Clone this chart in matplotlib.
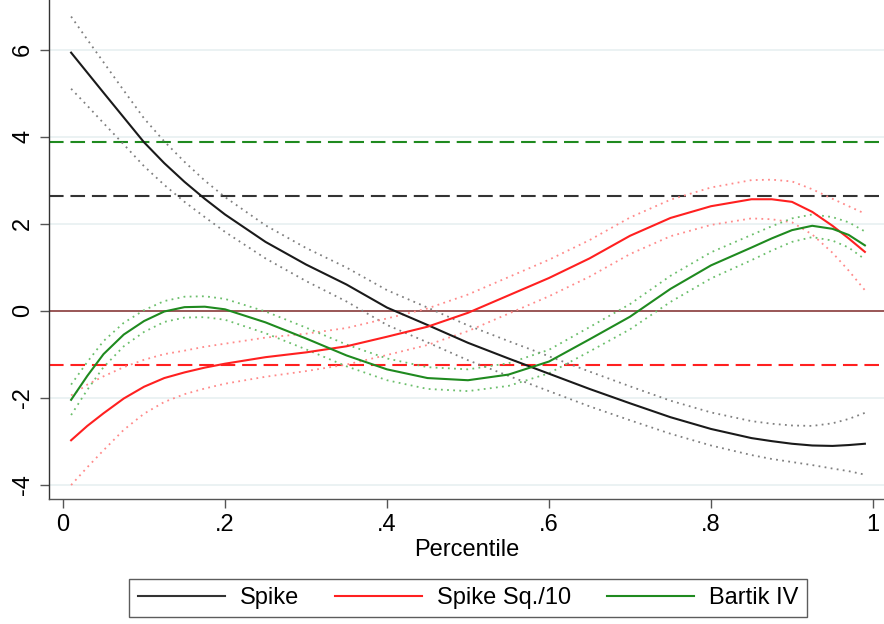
import matplotlib
matplotlib.use("Agg")
import matplotlib.pyplot as plt
from matplotlib.lines import Line2D

plt.rcParams['font.family'] = ['Liberation Sans', 'DejaVu Sans']

# percentile grid
pct = [0.01, 0.03, 0.05, 0.075, 0.10, 0.125, 0.15, 0.175, 0.20, 0.25, 0.30, 0.35,
       0.40, 0.45, 0.50, 0.55, 0.60, 0.65, 0.70, 0.75, 0.80, 0.85, 0.875, 0.90, 0.925,
       0.95, 0.97, 0.99]

# Spike
spike = [5.93, 5.47, 5.01, 4.44, 3.87, 3.39, 2.96, 2.57, 2.21, 1.58, 1.06, 0.60,
         0.07, -0.33, -0.74, -1.10, -1.45, -1.80, -2.13, -2.45, -2.72, -2.93, -3.00, -3.06,
         -3.10, -3.11, -3.09, -3.06]
spike_hi = [6.76, 6.23, 5.71, 5.06, 4.42, 3.89, 3.42, 2.99, 2.61, 1.96, 1.44, 0.99,
            0.47, 0.07, -0.34, -0.70, -1.05, -1.40, -1.74, -2.07, -2.34, -2.54, -2.60, -2.64,
            -2.65, -2.59, -2.49, -2.35]
spike_lo = [5.10, 4.71, 4.31, 3.82, 3.32, 2.89, 2.50, 2.15, 1.81, 1.20, 0.68, 0.21,
            -0.33, -0.73, -1.14, -1.50, -1.85, -2.20, -2.52, -2.83, -3.10, -3.32, -3.41, -3.48,
            -3.55, -3.63, -3.69, -3.77]

# Spike Sq./10
spsq = [-2.98, -2.65, -2.36, -2.02, -1.75, -1.55, -1.42, -1.31, -1.22, -1.07, -0.96, -0.82,
        -0.60, -0.37, -0.05, 0.35, 0.75, 1.20, 1.72, 2.13, 2.40, 2.56, 2.56, 2.50,
        2.27, 1.95, 1.66, 1.35]
spsq_hi = [-1.95, -1.70, -1.51, -1.30, -1.13, -1.00, -0.92, -0.83, -0.76, -0.62, -0.53, -0.40,
           -0.18, 0.05, 0.37, 0.77, 1.17, 1.62, 2.14, 2.55, 2.83, 3.00, 3.01, 2.97,
           2.79, 2.57, 2.40, 2.23]
spsq_lo = [-4.01, -3.60, -3.21, -2.74, -2.37, -2.10, -1.92, -1.79, -1.68, -1.52, -1.39, -1.24,
           -1.02, -0.79, -0.47, -0.07, 0.33, 0.78, 1.30, 1.71, 1.97, 2.12, 2.10, 2.03,
           1.75, 1.33, 0.92, 0.47]

# Bartik IV
bartik = [-2.05, -1.50, -1.00, -0.55, -0.24, -0.02, 0.08, 0.09, 0.03, -0.27, -0.64, -1.03,
          -1.35, -1.55, -1.60, -1.47, -1.17, -0.66, -0.14, 0.50, 1.04, 1.45, 1.66, 1.85,
          1.95, 1.88, 1.74, 1.50]
bartik_hi = [-1.70, -1.18, -0.70, -0.28, 0.01, 0.22, 0.32, 0.33, 0.27, -0.02, -0.39, -0.78,
             -1.10, -1.30, -1.35, -1.21, -0.90, -0.38, 0.15, 0.80, 1.34, 1.74, 1.94, 2.12,
             2.21, 2.15, 2.03, 1.82]
bartik_lo = [-2.40, -1.82, -1.30, -0.82, -0.49, -0.26, -0.16, -0.15, -0.21, -0.52, -0.89, -1.28,
             -1.60, -1.80, -1.85, -1.73, -1.44, -0.94, -0.43, 0.20, 0.74, 1.16, 1.38, 1.58,
             1.69, 1.61, 1.45, 1.18]

# reference levels drawn as dashed lines
ref_spike = 2.64
ref_spsq = -1.26
ref_bartik = 3.88

labels = ["Spike", "Spike Sq./10", "Bartik IV"]
yticks = [-4, -2, 0, 2, 4, 6]
xticks = [0, 0.2, 0.4, 0.6, 0.8, 1.0]
xticklabels = ["0", ".2", ".4", ".6", ".8", "1"]

c_black = "#1a1a1a"
c_red = "#ff2020"
c_green = "#1f8a1f"
c_black_ci = "#808080"
c_red_ci = "#ff8a8a"
c_green_ci = "#6cbf6c"
FS = 17

fig = plt.figure(figsize=(8.84, 6.24), dpi=100)
ax = fig.add_axes([49 / 884, 1 - 499 / 624, 1 - 49 / 884, 499 / 624])

ax.set_xlim(-0.0173, 1.0136)
ax.set_ylim(-4.33, 7.14)

for yv in yticks:
    ax.axhline(yv, color="#e6eff0", lw=1.1, zorder=0)

dash = (7.0, 3.3)
ax.axhline(ref_bartik, color=c_green, lw=1.5, dashes=dash, zorder=1)
ax.axhline(ref_spike, color="#333333", lw=1.5, dashes=dash, zorder=1)
ax.axhline(ref_spsq, color=c_red, lw=1.5, dashes=dash, zorder=1)
ax.axhline(0, color="#8b3b3b", lw=1.4, alpha=0.85, zorder=1)

dot = (1.0, 2.4)
for hi, lo, col in [(spike_hi, spike_lo, c_black_ci), (spsq_hi, spsq_lo, c_red_ci),
                    (bartik_hi, bartik_lo, c_green_ci)]:
    ax.plot(pct, hi, color=col, lw=1.3, dashes=dot, zorder=2)
    ax.plot(pct, lo, color=col, lw=1.3, dashes=dot, zorder=2)

ax.plot(pct, spike, color=c_black, lw=1.5, zorder=3)
ax.plot(pct, spsq, color=c_red, lw=1.5, zorder=3)
ax.plot(pct, bartik, color=c_green, lw=1.5, zorder=3)

ax.set_yticks(yticks)
ax.set_yticklabels([str(v) for v in yticks], rotation=90, va="center", fontsize=FS)
ax.set_xticks(xticks)
ax.set_xticklabels(xticklabels, fontsize=FS)
ax.tick_params(axis="both", direction="out", length=6.8, width=1.0, color="#555555", pad=4)
ax.set_xlabel("Percentile", fontsize=FS, labelpad=2)

for s in ["top", "right"]:
    ax.spines[s].set_visible(False)
ax.spines["left"].set_color("#333333")
ax.spines["bottom"].set_color("#555555")
ax.spines["left"].set_linewidth(1.0)
ax.spines["bottom"].set_linewidth(1.0)

handles = [Line2D([], [], color="#333333", lw=1.5),
           Line2D([], [], color=c_red, lw=1.5),
           Line2D([], [], color=c_green, lw=1.5)]
leg = fig.legend(handles, labels, loc="center", bbox_to_anchor=(468 / 884, 1 - 598 / 624),
                 ncol=3, fontsize=FS, frameon=True, fancybox=False, edgecolor="#333333",
                 handlelength=3.68, handletextpad=0.64, columnspacing=1.52, borderpad=0.35,
                 borderaxespad=0)
leg.get_frame().set_linewidth(1.0)

fig.savefig("out.png", dpi=100)
